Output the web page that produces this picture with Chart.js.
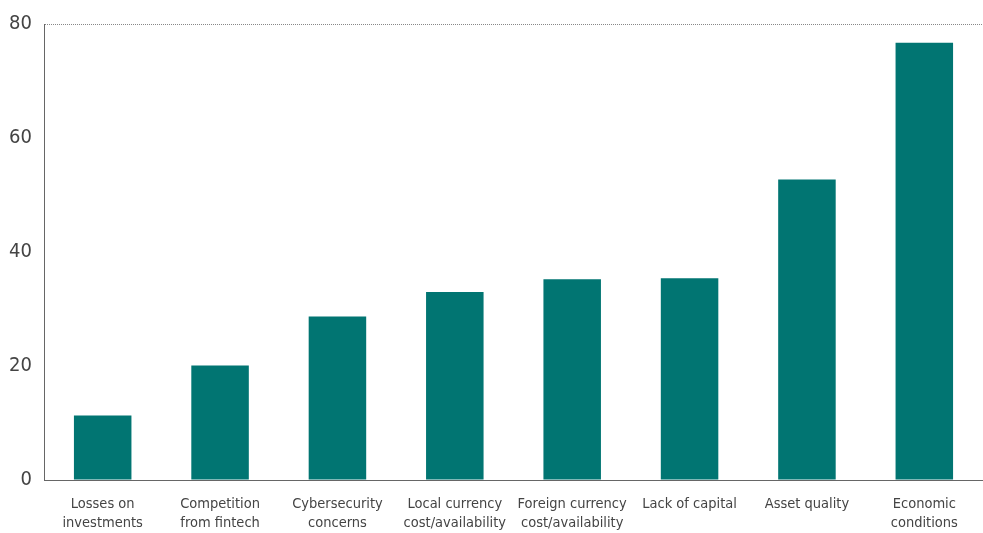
<!DOCTYPE html>
<html>
<head>
<meta charset="utf-8">
<script src="https://cdn.jsdelivr.net/npm/chart.js@4.4.0/dist/chart.umd.min.js"></script>
<style>
  html, body { margin: 0; padding: 0; background: #fff; }
  #wrap { width: 983px; height: 533px; position: relative; }
</style>
</head>
<body>
<div id="wrap"><canvas id="bars"></canvas></div>
<script>
// categories and values
var categories = [
    ['Losses on', 'investments'],
    ['Competition', 'from fintech'],
    ['Cybersecurity', 'concerns'],
    ['Local currency', 'cost/availability'],
    ['Foreign currency', 'cost/availability'],
    'Lack of capital',
    'Asset quality',
    ['Economic', 'conditions']
];
var values = [11.3, 20.1, 28.7, 33.0, 35.2, 35.4, 52.7, 76.7];
var yTicks = [0, 20, 40, 60, 80];

var fontFamily = '"Liberation Sans Narrow", "DejaVu Sans Condensed", sans-serif';
var ctx = document.getElementById('bars');

var chart = new Chart(ctx, {
    type: 'bar',
    data: {
        labels: categories,
        datasets: [{
            data: values,
            backgroundColor: '#017572',
            borderWidth: 0,
            barPercentage: 0.49,
            categoryPercentage: 1
        }]
    },
    options: {
        responsive: true,
        maintainAspectRatio: false,
        animation: false,
        layout: { padding: { top: 18, right: 0, left: 4, bottom: 0 } },
        plugins: {
            legend: { display: false },
            tooltip: { enabled: false }
        },
        scales: {
            x: {
                grid: { display: false },
                border: { display: true, color: '#666', width: 1, dash: [1, 1] },
                afterFit: function (axis) { axis.height = 53; },
                ticks: {
                    color: '#444',
                    font: { family: fontFamily, size: 14.5, lineHeight: 1.3 },
                    maxRotation: 0,
                    autoSkip: false,
                    padding: 7
                }
            },
            y: {
                min: 0,
                max: 80,
                afterBuildTicks: function (axis) {
                    axis.ticks = yTicks.map(function (v) { return { value: v }; });
                },
                afterFit: function (axis) { axis.width = 40; },
                grid: {
                    drawTicks: false,
                    color: function (c) { return c.tick && c.tick.value === 80 ? '#888' : 'rgba(0,0,0,0)'; },
                    lineWidth: 1
                },
                border: { display: true, color: '#666', width: 1, dash: [1, 1] },
                ticks: {
                    color: '#444',
                    font: { family: fontFamily, size: 20 },
                    padding: 12
                }
            }
        }
    }
});
</script>
</body>
</html>
